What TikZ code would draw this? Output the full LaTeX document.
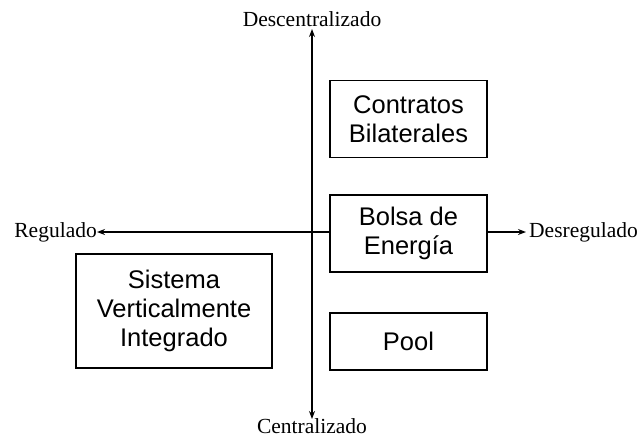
\documentclass[tikz,border=0pt]{standalone}
\usepackage{fontspec}
\setmainfont{Liberation Serif}
\newfontfamily\boxfont{Liberation Sans}
\usetikzlibrary{arrows.meta}
\begin{document}
\begin{tikzpicture}[x=1pt,y=-1pt,
  box/.style={draw,line width=1.3pt,align=center,font=\boxfont\fontsize{25.5}{29}\selectfont,inner sep=0pt},
  lbl/.style={inner sep=0pt,font=\fontsize{21.5}{26}\selectfont},
  axis/.style={line width=1.3pt,-{Stealth[length=8pt,width=6pt]}}]
\useasboundingbox (0,0) rectangle (643,440);
\node[box,minimum width=157pt,minimum height=77pt] (contr) at (408.5,119) {Contratos\\Bilaterales};
\node[box,minimum width=157pt,minimum height=77pt] (bolsa) at (408.5,233.5) {Bolsa de\\Energía};
\node[box,minimum width=157pt,minimum height=57pt] (pool) at (408.5,341.5) {Pool};
\node[box,minimum width=196pt,minimum height=114pt] (sist) at (174,311) {Sistema\\Verticalmente\\Integrado};
\node[lbl,anchor=south] (desc) at (312,27) {Descentralizado};
\node[lbl,anchor=base] (cent) at (312,433) {Centralizado};
\node[lbl,anchor=east] (reg) at (97,232) {Regulado};
\node[lbl,anchor=west] (dreg) at (529,232) {Desregulado};
\coordinate (top) at (312,29);
\coordinate (bot) at (312,419);
\draw[line width=1.3pt,{Stealth[length=8pt,width=6pt]}-{Stealth[length=8pt,width=6pt]}] (bot) -- (top);
\draw[axis] (bolsa.west |- reg.east) -- (reg.east);
\draw[axis] (bolsa.east |- dreg.west) -- ([xshift=-3pt]dreg.west);
\end{tikzpicture}
\end{document}
